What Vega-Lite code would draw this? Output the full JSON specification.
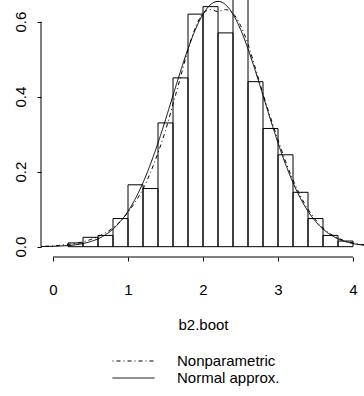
{
  "$schema": "https://vega.github.io/schema/vega-lite/v6.json",
  "width": 324,
  "height": 257,
  "autosize": {"type": "none"},
  "padding": {"left": 41, "top": 0, "right": 0, "bottom": 139},
  "config": {
    "font": "Liberation Sans",
    "view": {"stroke": null},
    "axis": {"labelColor": "#000", "tickColor": "#000", "titleColor": "#000", "grid": false, "domain": false, "labelFontSize": 15, "titleFontSize": 15, "titleFontWeight": "normal", "tickSize": 4},
    "legend": {"labelFontSize": 15, "labelColor": "#000"}
  },
  "datasets": {
    "bars": [
      {"start": 0.2, "end": 0.4, "density": 0.01},
      {"start": 0.4, "end": 0.6, "density": 0.025},
      {"start": 0.6, "end": 0.8, "density": 0.03},
      {"start": 0.8, "end": 1.0, "density": 0.075},
      {"start": 1.0, "end": 1.2, "density": 0.165},
      {"start": 1.2, "end": 1.4, "density": 0.155},
      {"start": 1.4, "end": 1.6, "density": 0.33},
      {"start": 1.6, "end": 1.8, "density": 0.45},
      {"start": 1.8, "end": 2.0, "density": 0.62},
      {"start": 2.0, "end": 2.2, "density": 0.64},
      {"start": 2.2, "end": 2.4, "density": 0.57},
      {"start": 2.4, "end": 2.6, "density": 0.665},
      {"start": 2.6, "end": 2.8, "density": 0.44},
      {"start": 2.8, "end": 3.0, "density": 0.315},
      {"start": 3.0, "end": 3.2, "density": 0.245},
      {"start": 3.2, "end": 3.4, "density": 0.145},
      {"start": 3.4, "end": 3.6, "density": 0.075},
      {"start": 3.6, "end": 3.8, "density": 0.03},
      {"start": 3.8, "end": 4.0, "density": 0.015}
    ],
    "curves": [
      {"series": "Nonparametric", "x": -0.16, "density": 0.001},
      {"series": "Nonparametric", "x": 0.0, "density": 0.002},
      {"series": "Nonparametric", "x": 0.1, "density": 0.004},
      {"series": "Nonparametric", "x": 0.2, "density": 0.006},
      {"series": "Nonparametric", "x": 0.3, "density": 0.009},
      {"series": "Nonparametric", "x": 0.4, "density": 0.013},
      {"series": "Nonparametric", "x": 0.5, "density": 0.019},
      {"series": "Nonparametric", "x": 0.6, "density": 0.027},
      {"series": "Nonparametric", "x": 0.7, "density": 0.037},
      {"series": "Nonparametric", "x": 0.8, "density": 0.05},
      {"series": "Nonparametric", "x": 0.9, "density": 0.068},
      {"series": "Nonparametric", "x": 1.0, "density": 0.092},
      {"series": "Nonparametric", "x": 1.1, "density": 0.12},
      {"series": "Nonparametric", "x": 1.2, "density": 0.154},
      {"series": "Nonparametric", "x": 1.3, "density": 0.198},
      {"series": "Nonparametric", "x": 1.4, "density": 0.25},
      {"series": "Nonparametric", "x": 1.5, "density": 0.31},
      {"series": "Nonparametric", "x": 1.6, "density": 0.38},
      {"series": "Nonparametric", "x": 1.7, "density": 0.452},
      {"series": "Nonparametric", "x": 1.8, "density": 0.525},
      {"series": "Nonparametric", "x": 1.9, "density": 0.585},
      {"series": "Nonparametric", "x": 2.0, "density": 0.622},
      {"series": "Nonparametric", "x": 2.1, "density": 0.632},
      {"series": "Nonparametric", "x": 2.2, "density": 0.627},
      {"series": "Nonparametric", "x": 2.3, "density": 0.632},
      {"series": "Nonparametric", "x": 2.4, "density": 0.622},
      {"series": "Nonparametric", "x": 2.5, "density": 0.59},
      {"series": "Nonparametric", "x": 2.6, "density": 0.54},
      {"series": "Nonparametric", "x": 2.7, "density": 0.475},
      {"series": "Nonparametric", "x": 2.8, "density": 0.408},
      {"series": "Nonparametric", "x": 2.9, "density": 0.345},
      {"series": "Nonparametric", "x": 3.0, "density": 0.285},
      {"series": "Nonparametric", "x": 3.1, "density": 0.228},
      {"series": "Nonparametric", "x": 3.2, "density": 0.178},
      {"series": "Nonparametric", "x": 3.3, "density": 0.135},
      {"series": "Nonparametric", "x": 3.4, "density": 0.1},
      {"series": "Nonparametric", "x": 3.5, "density": 0.072},
      {"series": "Nonparametric", "x": 3.6, "density": 0.05},
      {"series": "Nonparametric", "x": 3.7, "density": 0.034},
      {"series": "Nonparametric", "x": 3.8, "density": 0.023},
      {"series": "Nonparametric", "x": 3.9, "density": 0.015},
      {"series": "Nonparametric", "x": 4.0, "density": 0.01},
      {"series": "Nonparametric", "x": 4.1, "density": 0.006},
      {"series": "Nonparametric", "x": 4.16, "density": 0.005},
      {"series": "Normal approx.", "x": -0.16, "density": 0.0004},
      {"series": "Normal approx.", "x": -0.1, "density": 0.0005},
      {"series": "Normal approx.", "x": 0.0, "density": 0.001},
      {"series": "Normal approx.", "x": 0.1, "density": 0.0018},
      {"series": "Normal approx.", "x": 0.2, "density": 0.003},
      {"series": "Normal approx.", "x": 0.3, "density": 0.0051},
      {"series": "Normal approx.", "x": 0.4, "density": 0.0084},
      {"series": "Normal approx.", "x": 0.5, "density": 0.0135},
      {"series": "Normal approx.", "x": 0.6, "density": 0.021},
      {"series": "Normal approx.", "x": 0.7, "density": 0.0318},
      {"series": "Normal approx.", "x": 0.8, "density": 0.047},
      {"series": "Normal approx.", "x": 0.9, "density": 0.0675},
      {"series": "Normal approx.", "x": 1.0, "density": 0.0944},
      {"series": "Normal approx.", "x": 1.1, "density": 0.1287},
      {"series": "Normal approx.", "x": 1.2, "density": 0.1706},
      {"series": "Normal approx.", "x": 1.3, "density": 0.2203},
      {"series": "Normal approx.", "x": 1.4, "density": 0.2768},
      {"series": "Normal approx.", "x": 1.5, "density": 0.3386},
      {"series": "Normal approx.", "x": 1.6, "density": 0.4032},
      {"series": "Normal approx.", "x": 1.7, "density": 0.4674},
      {"series": "Normal approx.", "x": 1.8, "density": 0.5275},
      {"series": "Normal approx.", "x": 1.9, "density": 0.5795},
      {"series": "Normal approx.", "x": 2.0, "density": 0.6198},
      {"series": "Normal approx.", "x": 2.1, "density": 0.6453},
      {"series": "Normal approx.", "x": 2.2, "density": 0.654},
      {"series": "Normal approx.", "x": 2.3, "density": 0.6453},
      {"series": "Normal approx.", "x": 2.4, "density": 0.6198},
      {"series": "Normal approx.", "x": 2.5, "density": 0.5795},
      {"series": "Normal approx.", "x": 2.6, "density": 0.5275},
      {"series": "Normal approx.", "x": 2.7, "density": 0.4674},
      {"series": "Normal approx.", "x": 2.8, "density": 0.4032},
      {"series": "Normal approx.", "x": 2.9, "density": 0.3386},
      {"series": "Normal approx.", "x": 3.0, "density": 0.2768},
      {"series": "Normal approx.", "x": 3.1, "density": 0.2203},
      {"series": "Normal approx.", "x": 3.2, "density": 0.1706},
      {"series": "Normal approx.", "x": 3.3, "density": 0.1287},
      {"series": "Normal approx.", "x": 3.4, "density": 0.0944},
      {"series": "Normal approx.", "x": 3.5, "density": 0.0675},
      {"series": "Normal approx.", "x": 3.6, "density": 0.047},
      {"series": "Normal approx.", "x": 3.7, "density": 0.0318},
      {"series": "Normal approx.", "x": 3.8, "density": 0.021},
      {"series": "Normal approx.", "x": 3.9, "density": 0.0135},
      {"series": "Normal approx.", "x": 4.0, "density": 0.0084},
      {"series": "Normal approx.", "x": 4.1, "density": 0.0051},
      {"series": "Normal approx.", "x": 4.16, "density": 0.0038}
    ]
  },
  "layer": [
    {
      "data": {"name": "bars"},
      "mark": {"type": "bar", "fill": null, "fillOpacity": 0, "stroke": "#000", "strokeWidth": 1, "clip": true},
      "encoding": {
        "x": {"field": "start", "type": "quantitative", "scale": {"domain": [-0.16, 4.16], "nice": false, "zero": false},
              "axis": {"values": [0, 1, 2, 3, 4], "format": "d", "labelPadding": 21, "title": "b2.boot", "titleBaseline": "alphabetic", "titleY": 72.5}},
        "x2": {"field": "end"},
        "y": {"field": "density", "type": "quantitative", "scale": {"domain": [-0.0275, 0.6577], "nice": false, "zero": false},
              "axis": {"values": [0, 0.2, 0.4, 0.6], "format": ".1f", "labelAngle": 270, "labelPadding": 9, "title": null}},
        "y2": {"datum": 0}
      }
    },
    {
      "data": {"name": "curves"},
      "mark": {"type": "line", "color": "#000", "strokeWidth": 1, "clip": true, "interpolate": "monotone"},
      "encoding": {
        "x": {"field": "x", "type": "quantitative"},
        "y": {"field": "density", "type": "quantitative"},
        "strokeDash": {"field": "series", "type": "nominal",
          "scale": {"domain": ["Nonparametric", "Normal approx."], "range": [[1, 3, 4, 3], [1, 0]]},
          "legend": {"title": null, "orient": "none", "legendX": 85, "legendY": 353.5, "symbolType": "M-5,0H5", "symbolSize": 70.56, "symbolStrokeColor": "#000", "symbolStrokeWidth": 1, "labelOffset": 36, "padding": 0, "rowPadding": 1, "labelFontSize": 15}}
      }
    },
    {
      "data": {"values": [{}]},
      "mark": {"type": "rule", "color": "#000", "strokeWidth": 1},
      "encoding": {
        "x": {"datum": -0.16, "type": "quantitative"},
        "y": {"datum": 0, "type": "quantitative"},
        "y2": {"datum": 0.6}
      }
    },
    {
      "data": {"values": [{}]},
      "mark": {"type": "rule", "color": "#000", "strokeWidth": 1},
      "encoding": {
        "x": {"datum": 0, "type": "quantitative"},
        "x2": {"datum": 4},
        "y": {"datum": -0.0275, "type": "quantitative"}
      }
    }
  ]
}
